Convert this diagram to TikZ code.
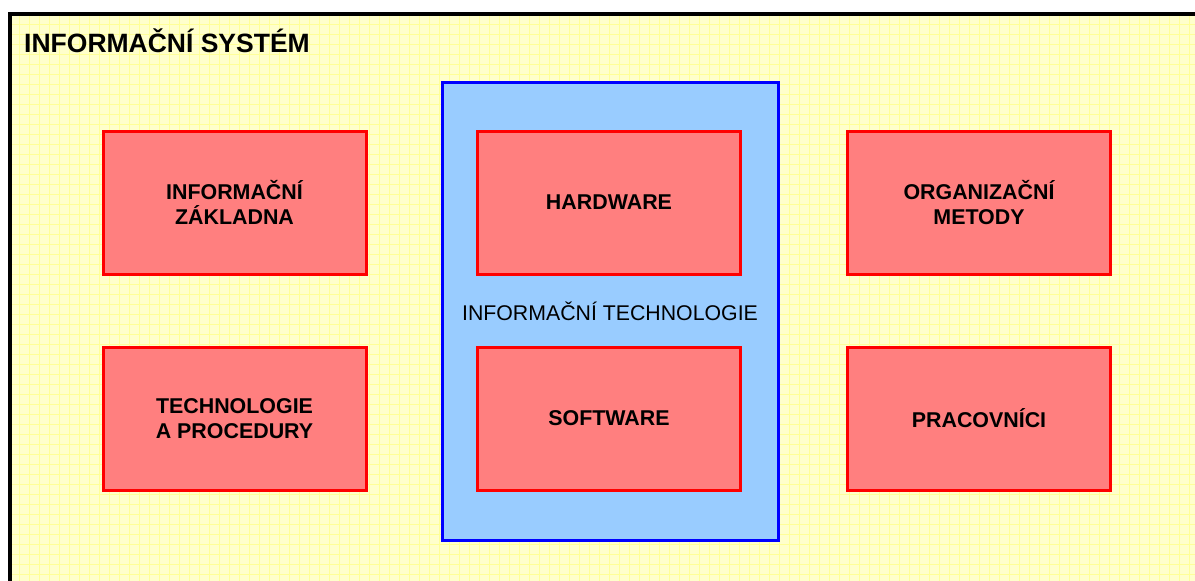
\documentclass[tikz,border=0pt]{standalone}
\usepackage{fontspec}
\setmainfont{Liberation Sans}
\definecolor{bgyellow}{HTML}{FFFFCC}
\definecolor{gridyellow}{HTML}{FFFF99}
\definecolor{boxred}{HTML}{FF7F7F}
\definecolor{linered}{HTML}{FF0000}
\definecolor{itblue}{HTML}{99CCFF}
\definecolor{lineblue}{HTML}{0000FF}
\tikzset{
  part/.style={draw=linered, fill=boxred, line width=3pt, minimum width=263pt, minimum height=143pt, inner sep=0pt, align=center, font=\fontsize{21.4}{25.5}\selectfont\bfseries},
  itbox/.style={draw=lineblue, fill=itblue, line width=3pt, inner sep=0pt},
}
\begin{document}
\begin{tikzpicture}[x=1pt,y=-1pt]
\useasboundingbox (0,0) rectangle (1195,581);
\fill[white] (0,0) rectangle (1195,581);
\fill[bgyellow] (10,14) rectangle (1195,581);
\begin{scope}
\clip (12,16) rectangle (1195,581);
\foreach \x in {19,29,...,1195} \draw[gridyellow, line width=0.9pt] (\x,14) -- (\x,581);
\foreach \y in {24,34,...,581} \draw[gridyellow, line width=0.9pt] (10,\y) -- (1195,\y);
\end{scope}
\draw[black, line width=4pt] (10,581) -- (10,14) -- (1195,14);
\node[anchor=base west, inner sep=0pt, font=\fontsize{26.5}{30}\selectfont\bfseries] (title) at (24,52) {INFORMAČNÍ SYSTÉM};
\node[itbox, minimum width=336pt, minimum height=458pt] (it) at (610,311) {};
\node[part] (iz) at (234.5,202.5) {INFORMAČNÍ\\ZÁKLADNA};
\node[part] (tp) at (234.5,418.5) {TECHNOLOGIE\\A PROCEDURY};
\node[part] (hw) at (609,202.5) {HARDWARE};
\node[part] (sw) at (609,418.5) {SOFTWARE};
\node[part] (om) at (979,202.5) {ORGANIZAČNÍ\\METODY};
\node[part] (pr) at (979,418.5) {PRACOVNÍCI};
\node[font=\fontsize{21.3}{25}\selectfont, inner sep=0pt] (itlabel) at (610,311) {INFORMAČNÍ TECHNOLOGIE};
\end{tikzpicture}
\end{document}
